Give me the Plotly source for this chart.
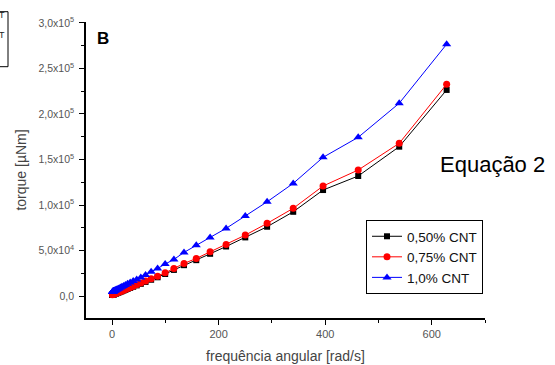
import plotly.graph_objects as go

# angular frequency [rad/s]
freq = [0.628, 0.733, 0.854, 0.996, 1.16, 1.35, 1.58, 1.84, 2.14, 2.50, 2.91, 3.40,
        3.96, 4.62, 5.39, 6.28, 7.33, 8.54, 9.96, 11.6, 13.5, 15.8, 18.4, 21.4,
        25.0, 29.1, 34.0, 39.6, 46.2, 53.9, 62.8, 73.3, 85.4, 99.6, 116, 135,
        158, 184, 214, 250, 291, 340, 396, 462, 539, 628]

torque_050 = [1350, 1400, 1450, 1500, 1550, 1600, 1650, 1700, 1800, 1900, 2000, 2100,
              2200, 2300, 2500, 2700, 2900, 3200, 3500, 3900, 4300, 4800, 5400, 6100,
              6900, 7900, 9000, 10300, 11800, 13500, 15600, 18000, 20700, 24300, 28800, 34000,
              39500, 46500, 54500, 64500, 76200, 92600, 116500, 131900, 164100, 226400]

torque_075 = [1650, 1700, 1750, 1800, 1850, 1900, 1950, 2000, 2100, 2200, 2300, 2400,
              2500, 2600, 2800, 3000, 3200, 3500, 3800, 4200, 4600, 5100, 5700, 6400,
              7300, 8300, 9500, 10900, 12500, 14300, 16500, 19000, 21800, 25600, 30400, 35900,
              41400, 48700, 56800, 67000, 79900, 96400, 120900, 138500, 167800, 232600]

torque_100 = [4500, 4600, 4700, 4800, 4900, 5000, 5100, 5200, 5300, 5400, 5500, 5700,
              5900, 6100, 6300, 6600, 6900, 7300, 7700, 8200, 8800, 9500, 10300, 11200,
              12300, 13500, 14900, 16500, 18400, 20600, 23200, 26700, 30400, 35200, 40300, 48000,
              56000, 64500, 74400, 87900, 103600, 123800, 152400, 174400, 211800, 276600]

series_names = ["0,50% CNT", "0,75% CNT", "1,0% CNT"]

x_ticks = [0, 200, 400, 600]
x_minor = [100, 300, 500, 700]
y_ticks = [0, 50000, 100000, 150000, 200000, 250000, 300000]
y_ticktext = ["0,0", "5,0x10<sup>4</sup>", "1,0x10<sup>5</sup>", "1,5x10<sup>5</sup>",
              "2,0x10<sup>5</sup>", "2,5x10<sup>5</sup>", "3,0x10<sup>5</sup>"]
y_minor = [25000, 75000, 125000, 175000, 225000, 275000]

FONT = "Liberation Sans, Arial, sans-serif"

fig = go.Figure()
styles = [("black", "square", 6), ("red", "circle", 7), ("blue", "triangle-up", 8)]
for name, ys, (col, sym, sz) in zip(series_names, [torque_050, torque_075, torque_100], styles):
    fig.add_trace(go.Scatter(
        x=freq, y=ys, name=name, mode="lines+markers",
        line=dict(color=col, width=1),
        marker=dict(color=col, symbol=sym, size=sz),
    ))

fig.update_layout(
    width=555, height=365,
    margin=dict(l=86, r=70, t=22, b=47),
    paper_bgcolor="white", plot_bgcolor="white",
    font=dict(family=FONT, color="#444"),
    showlegend=True,
    legend=dict(
        x=0.995, y=(318 - 257) / 296, xanchor="right", yanchor="middle",
        bordercolor="black", borderwidth=1, bgcolor="white",
        font=dict(size=13.5, color="#111", family=FONT),
        tracegroupgap=0, entrywidth=90, entrywidthmode="pixels",
    ),
    xaxis=dict(
        range=[-49, 700], tickmode="array", tickvals=x_ticks, automargin=False,
        ticks="outside", ticklen=5, tickwidth=1.2, tickcolor="black",
        showline=True, linecolor="black", linewidth=1.5,
        showgrid=False, zeroline=False,
        tickfont=dict(size=11, color="#555"),
        minor=dict(tickvals=x_minor, ticks="outside", ticklen=3, tickwidth=1.2, tickcolor="black", showgrid=False),
        title=dict(text="frequência angular [rad/s]", font=dict(size=14, color="#444"), standoff=12),
    ),
    yaxis=dict(
        range=[-24000, 301000], tickmode="array", tickvals=y_ticks, ticktext=y_ticktext, automargin=False,
        ticks="outside", ticklen=5, tickwidth=1.2, tickcolor="black",
        showline=True, linecolor="black", linewidth=1.5,
        showgrid=False, zeroline=False,
        tickfont=dict(size=10.5, color="#555"),
        ticklabelstandoff=3,
        minor=dict(tickvals=y_minor, ticks="outside", ticklen=3, tickwidth=1.2, tickcolor="black", showgrid=False),
        title=dict(text="torque [µNm]", font=dict(size=14, color="#444"), standoff=9),
    ),
    annotations=[
        dict(text="<b>B</b>", x=0.0426, y=0.9426, xref="paper", yref="paper",
             xanchor="center", yanchor="middle", showarrow=False,
             font=dict(size=17, color="black", family=FONT)),
        dict(text="Equação 2", x=0.882, y=0.52, xref="paper", yref="paper",
             xanchor="left", yanchor="middle", showarrow=False,
             font=dict(size=22, color="black", family=FONT)),
        dict(text="CNT", x=-0.197, y=(318 - 15) / 296, xref="paper", yref="paper",
             xanchor="right", yanchor="middle", showarrow=False,
             font=dict(size=9, color="#222", family=FONT)),
        dict(text="CNT", x=-0.197, y=(318 - 35) / 296, xref="paper", yref="paper",
             xanchor="right", yanchor="middle", showarrow=False,
             font=dict(size=9, color="#222", family=FONT)),
    ],
    shapes=[
        dict(type="rect", xref="paper", yref="paper",
             x0=-0.24, x1=(8 - 86) / 399, y0=(318 - 66.7) / 296, y1=(318 - 11.7) / 296,
             line=dict(color="black", width=1)),
    ],
)

fig.write_html("out.html", config={"displayModeBar": False},
               post_script="document.body.style.margin='0';")
